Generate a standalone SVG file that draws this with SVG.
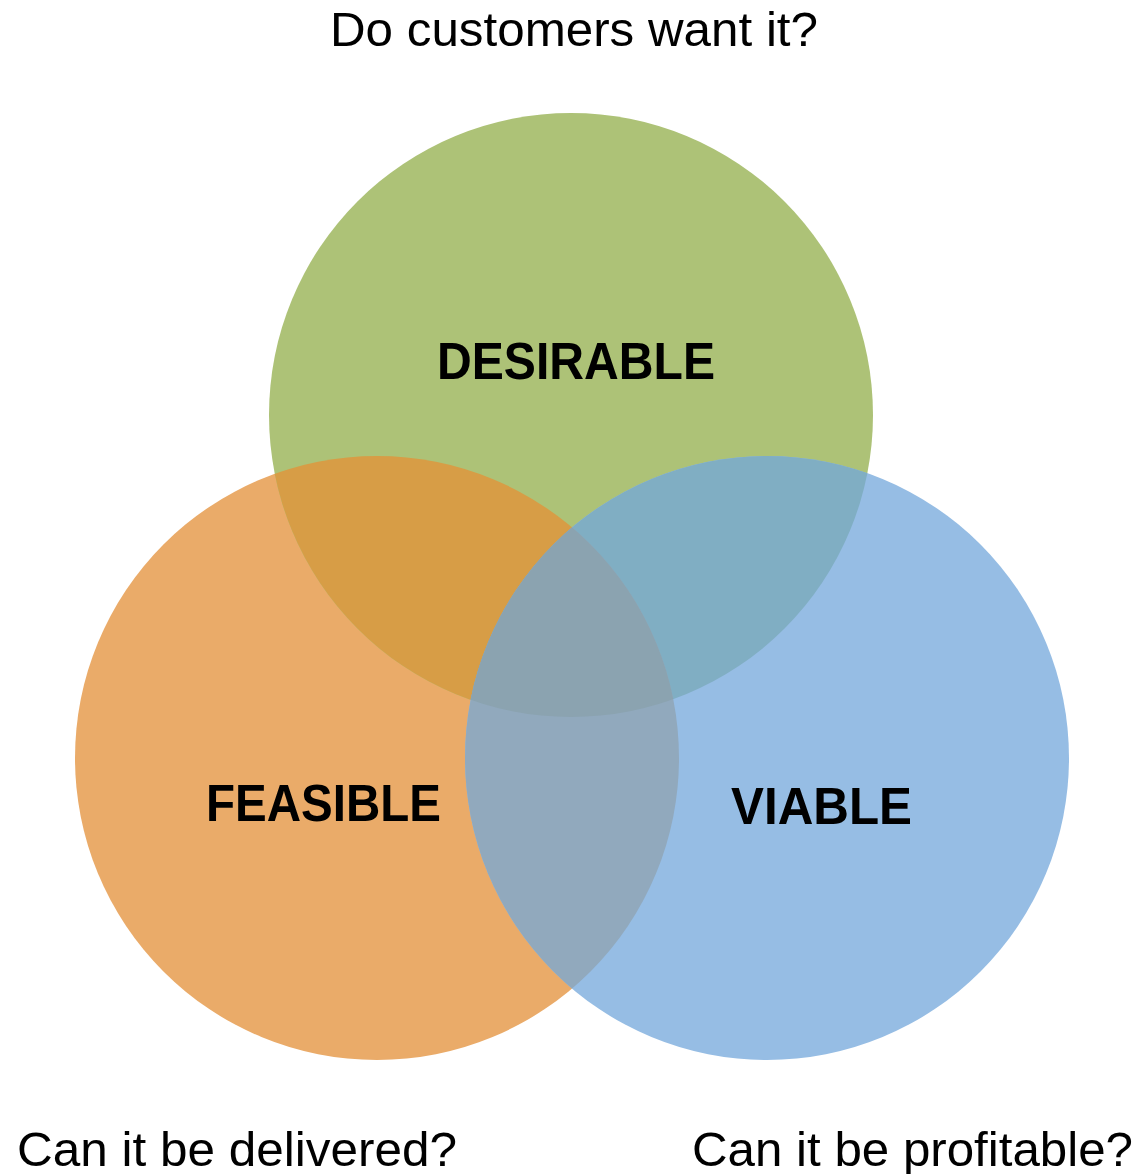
<svg xmlns="http://www.w3.org/2000/svg" width="1143" height="1174" viewBox="0 0 1143 1174">
  <style>
    .q { font-family: "Liberation Sans", Arial, sans-serif; font-size: 48px; fill: #000; }
    .lbl { font-family: "Liberation Sans", Arial, sans-serif; font-size: 51px; font-weight: bold; fill: #000; }
  </style>
  <defs>
    <circle id="cirG" cx="571" cy="415" r="302"/>
    <circle id="cirO" cx="377" cy="758" r="302"/>
    <circle id="cirB" cx="767" cy="758" r="302"/>
    <clipPath id="clipG"><use href="#cirG"/></clipPath>
    <clipPath id="clipO"><use href="#cirO"/></clipPath>
  </defs>
  <rect width="1143" height="1174" fill="#fff"/>

  <g id="feasible">
    <use href="#cirO" fill="#eaab69"/>
  </g>
  <g id="desirable">
    <use href="#cirG" fill="#adc277"/>
  </g>
  <g id="viable">
    <use href="#cirB" fill="#96bde4"/>
  </g>

  <g id="overlaps">
    <g clip-path="url(#clipG)">
      <use href="#cirO" fill="#d79d46"/>
      <use href="#cirB" fill="#80aec3"/>
    </g>
    <g clip-path="url(#clipO)">
      <use href="#cirB" fill="#91a9bd"/>
    </g>
    <g clip-path="url(#clipO)">
      <g clip-path="url(#clipG)">
        <use href="#cirB" fill="#8ba3b0"/>
      </g>
    </g>
  </g>

  <g id="labels">
    <text class="lbl" x="437" y="379" textLength="278" lengthAdjust="spacingAndGlyphs">DESIRABLE</text>
    <text class="lbl" x="206" y="821" textLength="235" lengthAdjust="spacingAndGlyphs">FEASIBLE</text>
    <text class="lbl" x="731" y="824" textLength="181" lengthAdjust="spacingAndGlyphs">VIABLE</text>
  </g>

  <g id="questions">
    <text class="q" x="330" y="46" textLength="488" lengthAdjust="spacingAndGlyphs">Do customers want it?</text>
    <text class="q" x="17" y="1166" textLength="440" lengthAdjust="spacingAndGlyphs">Can it be delivered?</text>
    <text class="q" x="692" y="1166" textLength="441" lengthAdjust="spacingAndGlyphs">Can it be profitable?</text>
  </g>
</svg>
